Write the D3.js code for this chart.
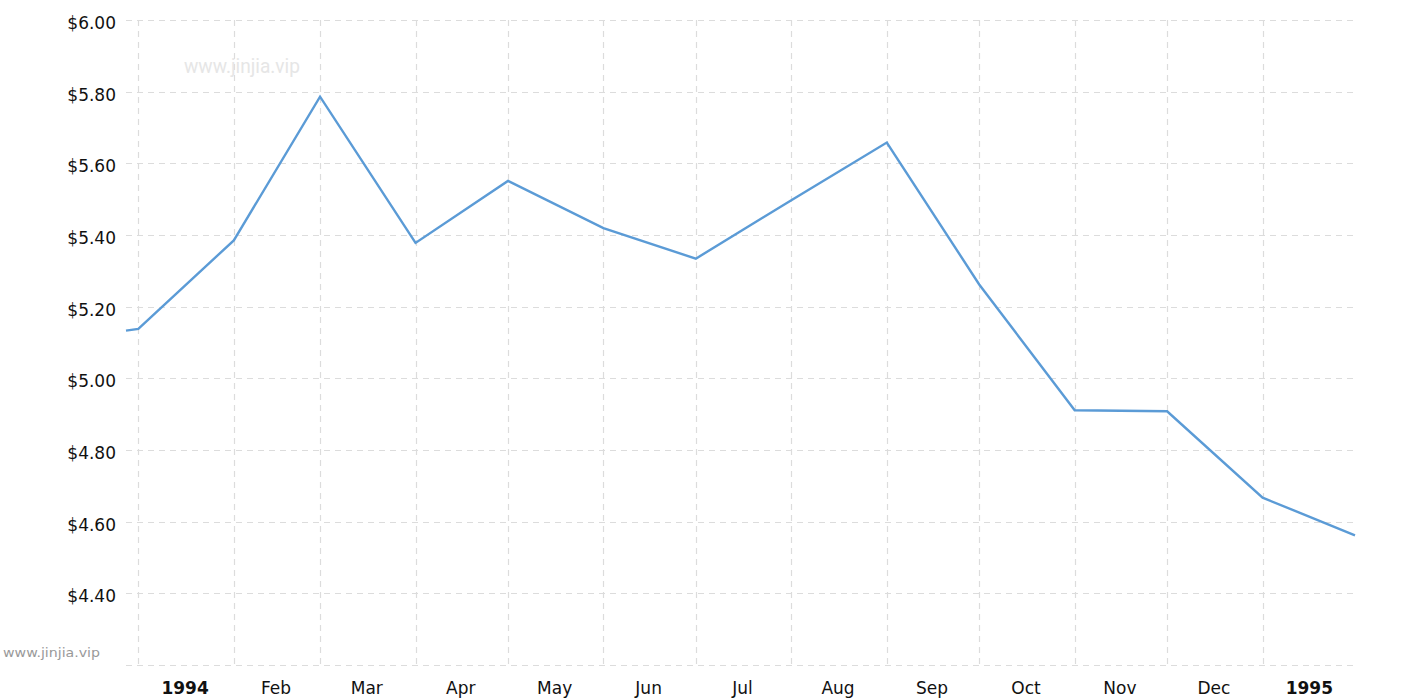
<!DOCTYPE html>
<html>
<head>
<meta charset="utf-8">
<script src="https://cdn.jsdelivr.net/npm/d3@7/dist/d3.min.js"></script>
<style>
  html, body { margin: 0; padding: 0; background: #fff; }
  svg { display: block; }
</style>
</head>
<body>
<svg id="chart" width="1415" height="700"></svg>
<script>
// ---- data ----
const dates = ["1993-12-28","1994-01-01","1994-02-01","1994-03-01","1994-04-01","1994-05-01","1994-06-01",
               "1994-07-01","1994-08-01","1994-09-01","1994-10-01","1994-11-01","1994-12-01","1995-01-01","1995-01-31"];
const prices = [5.133, 5.138, 5.385, 5.786, 5.378, 5.551, 5.419, 5.334, 5.497, 5.658, 5.262, 4.911, 4.908, 4.667, 4.562];
const monthStarts = ["1994-01-01","1994-02-01","1994-03-01","1994-04-01","1994-05-01","1994-06-01","1994-07-01",
                     "1994-08-01","1994-09-01","1994-10-01","1994-11-01","1994-12-01","1995-01-01","1995-02-01"];
const monthLabels = ["1994","Feb","Mar","Apr","May","Jun","Jul","Aug","Sep","Oct","Nov","Dec","1995"];
const boldLabels = ["1994","1995"];
const yTicks = [4.4, 4.6, 4.8, 5.0, 5.2, 5.4, 5.6, 5.8, 6.0];
const yGrid = [4.2, 4.4, 4.6, 4.8, 5.0, 5.2, 5.4, 5.6, 5.8, 6.0];
const xDomain = ["1993-12-28","1995-01-31"];
const yDomain = [4.2, 6.0];

(function () {
  const svg = d3.select("#chart");
  const parse = d3.utcParse("%Y-%m-%d");
  const pLeft = 126, pRight = 1355, pTop = 20, pBottom = 665;

  const x = d3.scaleUtc().domain(xDomain.map(parse)).range([pLeft, pRight]);
  const y = d3.scaleLinear().domain(yDomain).range([pBottom, pTop]);

  const font = "'DejaVu Sans', Verdana, sans-serif";
  const gridColor = "#dcdcdc";

  // horizontal grid
  svg.append("g").selectAll("line").data(yGrid).join("line")
    .attr("x1", pLeft).attr("x2", pRight)
    .attr("y1", d => Math.round(y(d)) + 0.5).attr("y2", d => Math.round(y(d)) + 0.5)
    .attr("stroke", gridColor).attr("stroke-width", 1.2).attr("stroke-dasharray", "6,5");

  // vertical grid (month starts within domain)
  const vLines = monthStarts.map(parse).filter(d => d <= x.domain()[1]);
  svg.append("g").selectAll("line").data(vLines).join("line")
    .attr("x1", d => Math.round(x(d)) + 0.5).attr("x2", d => Math.round(x(d)) + 0.5)
    .attr("y1", pTop).attr("y2", pBottom + 1)
    .attr("stroke", gridColor).attr("stroke-width", 1.2).attr("stroke-dasharray", "6,5");

  // y labels
  svg.append("g").selectAll("text").data(yTicks).join("text")
    .attr("x", 116).attr("y", d => y(d)).attr("dy", "0.52em")
    .attr("text-anchor", "end")
    .attr("font-family", font).attr("font-size", 17).attr("fill", "#111")
    .text(d => "$" + d3.format(".2f")(d));

  // x labels (centered in each month)
  const ms = monthStarts.map(parse);
  svg.append("g").selectAll("text").data(monthLabels).join("text")
    .attr("x", (d, i) => (x(ms[i]) + x(ms[i + 1])) / 2 - 1)
    .attr("y", 694)
    .attr("text-anchor", "middle")
    .attr("font-family", font).attr("font-size", 17)
    .attr("font-weight", d => boldLabels.includes(d) ? "bold" : "normal")
    .attr("fill", "#111")
    .text(d => d);

  // watermarks
  svg.append("text")
    .attr("x", 184).attr("y", 73)
    .attr("font-family", "Roboto, 'Liberation Sans Narrow', sans-serif")
    .attr("font-size", 21).attr("fill", "#e6e6e6")
    .attr("textLength", 116).attr("lengthAdjust", "spacingAndGlyphs")
    .text("www.jinjia.vip");
  svg.append("text")
    .attr("x", 3).attr("y", 657)
    .attr("font-family", font)
    .attr("font-size", 13).attr("fill", "#999")
    .attr("textLength", 97).attr("lengthAdjust", "spacingAndGlyphs")
    .text("www.jinjia.vip");

  // line
  const pts = dates.map((d, i) => ({ date: parse(d), v: prices[i] }));
  const line = d3.line().x(d => x(d.date)).y(d => y(d.v));
  svg.append("path").datum(pts)
    .attr("d", line)
    .attr("fill", "none")
    .attr("stroke", "#5b9bd6")
    .attr("stroke-width", 2.4)
    .attr("stroke-linejoin", "miter");
})();
</script>
</body>
</html>
